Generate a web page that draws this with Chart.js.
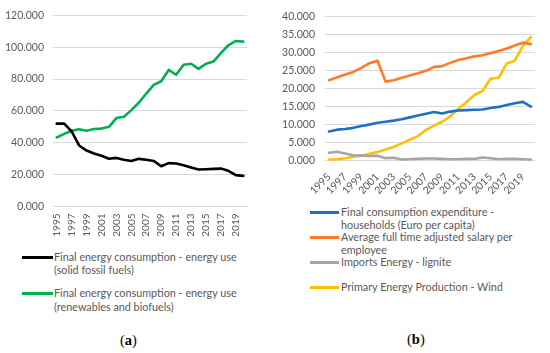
<!DOCTYPE html>
<html>
<head>
<meta charset="utf-8">
<script src="https://cdn.jsdelivr.net/npm/chart.js@4.4.1/dist/chart.umd.min.js"></script>
<style>
  html, body { margin: 0; padding: 0; background: #ffffff; }
  body { width: 550px; height: 353px; position: relative; overflow: hidden; font-family: Lato, "Noto Sans", sans-serif; }
  .box { position: absolute; }
  .leg { position: absolute; font-family: Lato, "Noto Sans", sans-serif; font-size: 10.8px; color: #595959; line-height: 13.5px; }
  .leg .item { position: absolute; white-space: nowrap; }
  .leg .swatch { position: absolute; height: 3px; }
  .cap { position: absolute; font-family: "Liberation Serif", "DejaVu Serif", serif; font-size: 14.5px; color: #000; }
</style>
</head>
<body>
<div class="box" style="left:0;top:0;width:275px;height:245px;"><canvas id="cA"></canvas></div>
<div class="box" style="left:275px;top:0;width:275px;height:200px;"><canvas id="cB"></canvas></div>

<div class="leg" id="legA"></div>
<div class="leg" id="legB"></div>
<div class="cap" style="left:120px;top:332px;">(<b>a</b>)</div>
<div class="cap" style="left:407px;top:331px;">(<b>b</b>)</div>

<script>
// ---------- data ----------
const years = ["1995","1996","1997","1998","1999","2000","2001","2002","2003","2004","2005","2006","2007","2008","2009","2010","2011","2012","2013","2014","2015","2016","2017","2018","2019","2020"];

// panel (a)
const seriesA1Label = ["Final energy consumption - energy use", "(solid fossil fuels)"];
const solidFossil = [52.0, 52.0, 47.2, 38.3, 35.1, 33.3, 31.8, 30.0, 30.5, 29.4, 28.5, 29.9, 29.3, 28.6, 25.3, 27.2, 27.0, 25.9, 24.5, 23.2, 23.4, 23.6, 23.8, 22.4, 19.7, 19.2];
const seriesA2Label = ["Final energy consumption - energy use", "(renewables and biofuels)"];
const renewables = [43.3, 45.6, 47.5, 48.5, 47.6, 48.6, 48.9, 50.0, 55.5, 56.3, 60.5, 65.1, 70.9, 76.3, 78.6, 85.7, 82.7, 89.0, 89.6, 86.4, 89.6, 91.0, 96.2, 101.2, 103.9, 103.5];
const yTicksA = [0, 20, 40, 60, 80, 100, 120];

// panel (b)
const seriesB1Label = ["Final consumption expenditure -", "households (Euro per capita)"];
const households = [8.1, 8.6, 8.8, 9.1, 9.6, 10.0, 10.5, 10.8, 11.1, 11.5, 12.0, 12.5, 13.0, 13.5, 13.1, 13.6, 13.9, 14.0, 14.1, 14.2, 14.6, 14.9, 15.4, 15.9, 16.3, 15.0];
const seriesB2Label = ["Average full time adjusted salary per", "employee"];
const salary = [22.3, 23.1, 23.9, 24.6, 25.7, 27.0, 27.7, 21.9, 22.3, 23.0, 23.6, 24.2, 24.9, 26.0, 26.2, 27.1, 27.9, 28.4, 28.9, 29.2, 29.8, 30.4, 31.1, 31.9, 32.7, 32.3];
const seriesB3Label = ["Imports Energy - lignite"];
const lignite = [2.2, 2.5, 2.0, 1.5, 1.4, 1.3, 1.4, 0.7, 0.8, 0.3, 0.4, 0.5, 0.6, 0.6, 0.5, 0.4, 0.4, 0.5, 0.5, 0.9, 0.7, 0.4, 0.5, 0.5, 0.4, 0.3];
const seriesB4Label = ["Primary Energy Production - Wind"];
const wind = [0.3, 0.4, 0.7, 1.1, 1.4, 1.9, 2.4, 3.1, 3.8, 4.8, 5.8, 6.8, 8.5, 9.7, 10.8, 12.3, 14.3, 16.2, 18.2, 19.3, 22.7, 23.0, 26.9, 27.7, 31.8, 34.3];
const yTicksB = [0, 5, 10, 15, 20, 25, 30, 35, 40];

// ---------- styles ----------
const colA = ["#000000", "#00b050"];
const colB = ["#1f6fc6", "#ff7b26", "#a5a5a5", "#ffc000"];
const gridCol = "#d9d9d9";
const tickCol = "#595959";
const fontFam = "Lato, 'Noto Sans', sans-serif";

function ds(label, data, color) {
  return { label: label.join(" "), data: data, borderColor: color, backgroundColor: color,
           borderWidth: 2.6, pointRadius: 0, tension: 0, fill: false, borderJoinStyle: "round", borderCapStyle: "round" };
}

function makeChart(id, labels, datasets, yTicks, opts) {
  const ymin = yTicks[0], ymax = yTicks[yTicks.length - 1];
  return new Chart(document.getElementById(id), {
    type: "line",
    data: { labels: labels, datasets: datasets },
    options: {
      responsive: true, maintainAspectRatio: false, animation: false,
      devicePixelRatio: 1,
      layout: { padding: opts.padding },
      plugins: { legend: { display: false }, tooltip: { enabled: false } },
      scales: {
        x: {
          type: "category", offset: true,
          grid: { display: false, drawTicks: false },
          border: { display: true, color: gridCol, width: 1 },
          ticks: {
            autoSkip: false, color: tickCol, padding: opts.xPad,
            minRotation: opts.rot, maxRotation: opts.rot,
            font: { family: fontFam, size: opts.xFont },
            callback: function (v, i) { return i % 2 === 0 ? labels[i] : ""; }
          },
          afterFit: function (s) { s.height = opts.xH; }
        },
        y: {
          min: ymin, max: ymax,
          grid: { color: gridCol, lineWidth: 1, drawTicks: false },
          border: { display: false },
          afterBuildTicks: function (s) { s.ticks = yTicks.map(v => ({ value: v })); },
          ticks: {
            color: tickCol, padding: opts.yPad,
            font: { family: fontFam, size: opts.yFont },
            callback: function (v) { return Number(v).toFixed(3); }
          },
          afterFit: function (s) { s.width = opts.yW; }
        }
      }
    }
  });
}

makeChart("cA", years, [
  ds(seriesA1Label, solidFossil, colA[0]),
  ds(seriesA2Label, renewables, colA[1])
], yTicksA, { padding: { left: 0, right: 28, top: 14, bottom: 0 }, xPad: 7, rot: 90, xFont: 10, xH: 38.5, yPad: 9, yFont: 10.5, yW: 53 });

makeChart("cB", years, [
  ds(seriesB1Label, households, colB[0]),
  ds(seriesB2Label, salary, colB[1]),
  ds(seriesB3Label, lignite, colB[2]),
  ds(seriesB4Label, wind, colB[3])
], yTicksB, { padding: { left: 0, right: 8, top: 13, bottom: 0 }, xPad: 10, rot: 45, xFont: 10.5, xH: 39.3, yPad: 10, yFont: 10.5, yW: 50 });

// ---------- HTML legends ----------
function buildLegend(id, items) {
  const el = document.getElementById(id);
  items.forEach(it => {
    const sw = document.createElement("div");
    sw.className = "swatch";
    sw.style.left = it.sx + "px"; sw.style.width = it.sw + "px";
    sw.style.top = (it.y - 1.5) + "px"; sw.style.background = it.color;
    el.appendChild(sw);
    const tx = document.createElement("div");
    tx.className = "item";
    tx.style.left = it.tx + "px"; tx.style.top = (it.y - 7.5) + "px";
    tx.innerHTML = it.lines.join("<br>");
    el.appendChild(tx);
  });
}
buildLegend("legA", [
  { sx: 22, sw: 31, tx: 54, y: 257, color: colA[0], lines: seriesA1Label },
  { sx: 22, sw: 31, tx: 54, y: 293.5, color: colA[1], lines: seriesA2Label }
]);
buildLegend("legB", [
  { sx: 310, sw: 29, tx: 341, y: 212, color: colB[0], lines: seriesB1Label },
  { sx: 310, sw: 29, tx: 341, y: 237, color: colB[1], lines: seriesB2Label },
  { sx: 310, sw: 29, tx: 341, y: 262, color: colB[2], lines: seriesB3Label },
  { sx: 310, sw: 29, tx: 341, y: 287, color: colB[3], lines: seriesB4Label }
]);
</script>
</body>
</html>
